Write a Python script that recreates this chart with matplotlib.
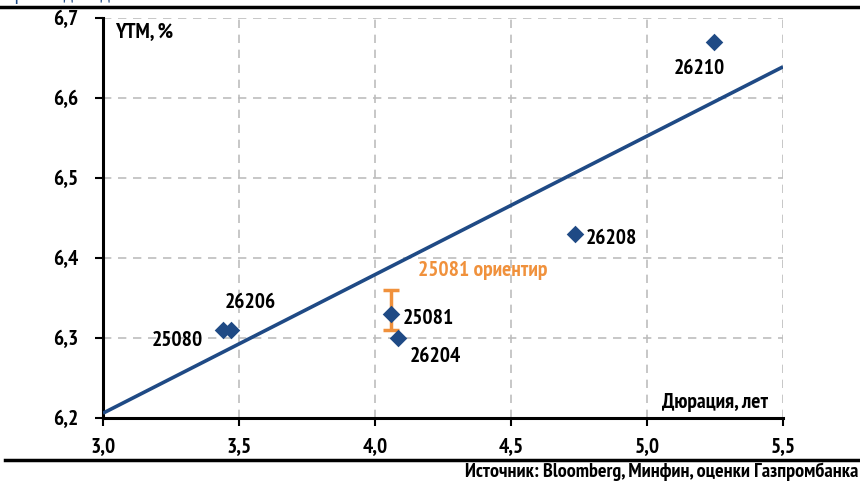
import matplotlib
matplotlib.use("Agg")
import matplotlib.pyplot as plt
from matplotlib import font_manager

names = {f.name for f in font_manager.fontManager.ttflist}
prefs = ["PT Sans Narrow", "Roboto Condensed", "Fira Sans Condensed", "Ubuntu Condensed",
         "Open Sans Condensed", "Liberation Sans Narrow", "Arial Narrow", "Archivo Narrow"]
fam = next((p for p in prefs if p in names), "DejaVu Sans")
plt.rcParams['font.family'] = [fam, 'DejaVu Sans']
FS = 15.5 if fam != "DejaVu Sans" else 12
FW = 'bold'

# data
bond_names = ["25080", "26206", "25081", "26204", "26208", "26210"]
duration = [3.44, 3.47, 4.06, 4.085, 4.735, 5.245]
ytm = [6.31, 6.31, 6.33, 6.30, 6.43, 6.67]
guide_x = 4.06
guide_lo = 6.31
guide_hi = 6.36
trend_x = [3.0, 5.5]
trend_y = [6.206, 6.639]
x_ticks = [3.0, 3.5, 4.0, 4.5, 5.0, 5.5]
y_ticks = [6.2, 6.3, 6.4, 6.5, 6.6, 6.7]

navy = "#1F4A85"
orange = "#F0913C"

fig = plt.figure(figsize=(8.6, 4.84), dpi=100)
ax = fig.add_axes([103/860, 1-418/484, 680/860, 400/484])

ax.plot(trend_x, trend_y, color=navy, lw=2.6, zorder=3, solid_capstyle='butt')
ax.errorbar([guide_x], [(guide_lo+guide_hi)/2], yerr=[[(guide_hi-guide_lo)/2], [(guide_hi-guide_lo)/2]],
            fmt='none', ecolor=orange, elinewidth=2.5, capsize=6, capthick=2.5, zorder=4)
ax.scatter(duration, ytm, marker='D', s=80, color=navy, zorder=5, linewidths=0)

ax.set_xlim(3.0, 5.5)
ax.set_ylim(6.2, 6.7)
ax.set_xticks(x_ticks)
ax.set_yticks(y_ticks)
ax.set_xticklabels([f"{v:.1f}".replace('.', ',') for v in x_ticks], fontsize=FS, fontweight=FW)
ax.set_yticklabels([f"{v:.1f}".replace('.', ',') for v in y_ticks], fontsize=FS, fontweight=FW)
ax.grid(True, color="#BDBDBD", ls=(0, (5, 4)), lw=1.2)
ax.set_axisbelow(True)
for s in ['top', 'right']:
    ax.spines[s].set_visible(False)
for s in ['left', 'bottom']:
    ax.spines[s].set_linewidth(2.2)
    ax.spines[s].set_color('black')
ax.tick_params(axis='both', direction='out', length=6, width=1.5, colors='black', pad=12)
ax.tick_params(axis='x', pad=8)

lab_kw = dict(fontsize=FS, fontweight=FW, color='black', zorder=6)
offsets = {
    "25080": (-20, -10, 'right', 'center'),
    "26206": (-6, 28, 'left', 'center'),
    "25081": (11, -5, 'left', 'center'),
    "26204": (12, -19, 'left', 'center'),
    "26208": (11, -4, 'left', 'center'),
    "26210": (-14, -26, 'center', 'center'),
}
for n, x, y in zip(bond_names, duration, ytm):
    dx, dy, ha, va = offsets[n]
    ax.annotate(n, (x, y), xytext=(dx, dy), textcoords='offset pixels', ha=ha, va=va, **lab_kw)

ax.annotate("25081 ориентир", (guide_x, guide_hi), xytext=(27, 20), textcoords='offset pixels',
            ha='left', va='center', fontsize=FS, fontweight=FW, color=orange)

ax.text(0.018, 0.966, "YTM, %", transform=ax.transAxes, ha='left', va='center', fontsize=FS, fontweight=FW)
ax.text(0.978, 0.04, "Дюрация, лет", transform=ax.transAxes, ha='right', va='center', fontsize=FS, fontweight=FW)

# figure decorations
fig.add_artist(plt.Line2D([0, 1], [1-7/484, 1-7/484], color='black', lw=2.5))
fig.add_artist(plt.Line2D([5/860, 1], [1-460/484, 1-460/484], color='black', lw=2.5))
fig.text(858/860, 1-472/484, "Источник: Bloomberg, Минфин, оценки Газпромбанка", ha='right', va='center',
         fontsize=FS-1, fontweight=FW)
fig.text(0.005, 1.012, "Кривая доходности ОФЗ", ha='left', va='center', fontsize=FS, color=navy)

fig.savefig("out.png", dpi=100)
